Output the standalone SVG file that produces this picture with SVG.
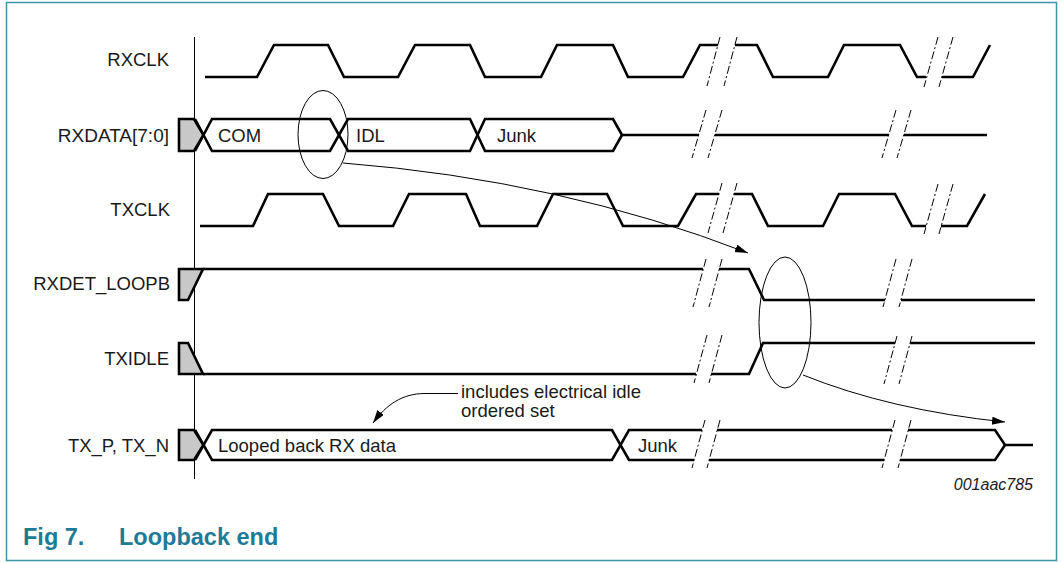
<svg xmlns="http://www.w3.org/2000/svg" width="1061" height="563" viewBox="0 0 1061 563">
<defs>
<style>
.lbl{font-family:"Liberation Sans",Arial,sans-serif;font-size:18.5px;fill:#1a1a1a}
.end{text-anchor:end}
.w{fill:none;stroke:#000;stroke-width:2.6;stroke-linejoin:miter}
.thin{fill:none;stroke:#000;stroke-width:1}
.brk{fill:none;stroke:#000;stroke-width:1;stroke-dasharray:8 2.5 2 2.5}
.gray{fill:#c8c8c8;stroke:#000;stroke-width:2.6}
.cap{font-family:"Liberation Sans",Arial,sans-serif;font-size:23.5px;font-weight:bold;fill:#1f7a95}
</style>
<marker id="ah" markerUnits="userSpaceOnUse" markerWidth="14" markerHeight="10" refX="13" refY="4" orient="auto">
<path d="M0,0 L13,4 L0,8 z" fill="#000"/>
</marker>
</defs>
<rect x="6.5" y="2.5" width="1050" height="558" fill="#fff" stroke="#3d95a8" stroke-width="1.5"/>

<g id="labels">
<text class="lbl end" x="169" y="66">RXCLK</text>
<text class="lbl end" x="169" y="142" style="font-size:19px">RXDATA[7:0]</text>
<text class="lbl end" x="170" y="216">TXCLK</text>
<text class="lbl end" x="170" y="290">RXDET_LOOPB</text>
<text class="lbl end" x="169" y="365">TXIDLE</text>
<text class="lbl end" x="169" y="452">TX_P, TX_N</text>
</g>

<line class="thin" x1="194.5" y1="37" x2="194.5" y2="479"/>

<g id="rxclk">
<path class="w" d="M205,77 L257,77 L274,45 L328,45 L344,77 L398,77 L415,45 L470,45 L485,77 L541,77 L557,45 L613,45 L628,77 L683,77 L700,45 L718,45"/>
<path class="w" d="M735,45 L757,45 L773,77 L828,77 L844,45 L900,45 L917,77 L926,77"/>
<path class="w" d="M942,77 L973,77 L990,45"/>
<line class="brk" x1="720" y1="37" x2="707" y2="86"/>
<line class="brk" x1="737" y1="37" x2="724" y2="86"/>
<line class="brk" x1="938" y1="37" x2="924" y2="87"/>
<line class="brk" x1="953" y1="37" x2="939" y2="87"/>
</g>

<g id="rxdata">
<polygon class="gray" points="179,119 194,119 203.5,135 194,151 179,151"/>
<path class="w" d="M195,151 L212,119 L330,119 L348,151 L470,151 L485,119 L613,119 L622,135"/>
<path class="w" d="M195,119 L212,151 L330,151 L348,119 L470,119 L485,151 L613,151 L622,135"/>
<path class="w" d="M622,135 L699,135 M715,135 L889,135 M904,135 L987,135"/>
<text class="lbl" x="218" y="142">COM</text>
<text class="lbl" x="356" y="142">IDL</text>
<text class="lbl" x="497" y="142">Junk</text>
<line class="brk" x1="706" y1="110" x2="692" y2="158"/>
<line class="brk" x1="722" y1="110" x2="708" y2="158"/>
<line class="brk" x1="896" y1="110" x2="882" y2="158"/>
<line class="brk" x1="911" y1="110" x2="897" y2="158"/>
</g>

<g id="txclk">
<path class="w" d="M200,226 L253,226 L268,194 L323,194 L339,226 L393,226 L409,194 L466,194 L480,226 L537,226 L553,194 L607,194 L623,226 L678,226 L696,194 L719,194"/>
<path class="w" d="M734,194 L752,194 L768,226 L823,226 L839,194 L895,194 L912,226 L926,226"/>
<path class="w" d="M941,226 L967,226 L985,194"/>
<line class="brk" x1="722" y1="183" x2="708" y2="233"/>
<line class="brk" x1="737" y1="183" x2="723" y2="233"/>
<line class="brk" x1="938" y1="184" x2="924" y2="234"/>
<line class="brk" x1="953" y1="184" x2="939" y2="234"/>
</g>

<g id="rxdet_loopb">
<polygon class="gray" points="179,269 203,269 188,300 179,300"/>
<path class="w" d="M203,269 L703,269 M719,269 L749,269 L764,300 L885,300 M901,300 L1035,300"/>
<line class="brk" x1="706" y1="259" x2="693" y2="307"/>
<line class="brk" x1="722" y1="259" x2="709" y2="307"/>
<line class="brk" x1="896" y1="259" x2="883" y2="307"/>
<line class="brk" x1="912" y1="259" x2="899" y2="307"/>
</g>

<g id="txidle">
<polygon class="gray" points="179,343 188,343 203,374 179,374"/>
<path class="w" d="M203,374 L696,374 M711,374 L749,374 L763,343 L895,343 M910,343 L1035,343"/>
<line class="brk" x1="707" y1="335" x2="694" y2="383"/>
<line class="brk" x1="722" y1="335" x2="709" y2="383"/>
<line class="brk" x1="897" y1="336" x2="884" y2="384"/>
<line class="brk" x1="912" y1="336" x2="899" y2="384"/>
</g>

<g id="tx_p_tx_n">
<polygon class="gray" points="179,430 194,430 203.5,445 194,460 179,460"/>
<path class="w" d="M195,460 L212,430 L612,430 L629,460 L694,460"/>
<path class="w" d="M195,430 L212,460 L612,460 L629,430 L702,430"/>
<path class="w" d="M717,430 L892,430 M908,430 L995,430 L1005,445 L1033,445"/>
<path class="w" d="M709,460 L884,460 M900,460 L995,460 L1005,445"/>
<text class="lbl" x="218" y="452">Looped back RX data</text>
<text class="lbl" x="638" y="452">Junk</text>
<line class="brk" x1="705" y1="420" x2="692" y2="468"/>
<line class="brk" x1="720" y1="420" x2="707" y2="468"/>
<line class="brk" x1="895" y1="420" x2="882" y2="468"/>
<line class="brk" x1="911" y1="420" x2="898" y2="468"/>
</g>

<g id="annotation">
<text class="lbl" x="461" y="398">includes electrical idle</text>
<text class="lbl" x="461" y="417">ordered set</text>
</g>

<g id="connectors">
<ellipse class="thin" cx="323" cy="134.5" rx="25" ry="44"/>
<ellipse class="thin" cx="785" cy="322.5" rx="26" ry="65.5"/>
<path class="thin" d="M343,163 Q560,180 748,253" marker-end="url(#ah)"/>
<path class="thin" d="M803,375 Q890,410 1005,422" marker-end="url(#ah)"/>
<path class="thin" d="M458,393.5 L425,393.5 C402,393.5 386,405 373,423" marker-end="url(#ah)"/>
</g>

<text x="1033" y="490" text-anchor="end" style="font-family:'Liberation Sans',Arial,sans-serif;font-size:16px;font-style:italic;fill:#1a1a1a">001aac785</text>
<text class="cap" x="23" y="545">Fig 7.</text>
<text class="cap" x="119" y="545">Loopback end</text>
</svg>
